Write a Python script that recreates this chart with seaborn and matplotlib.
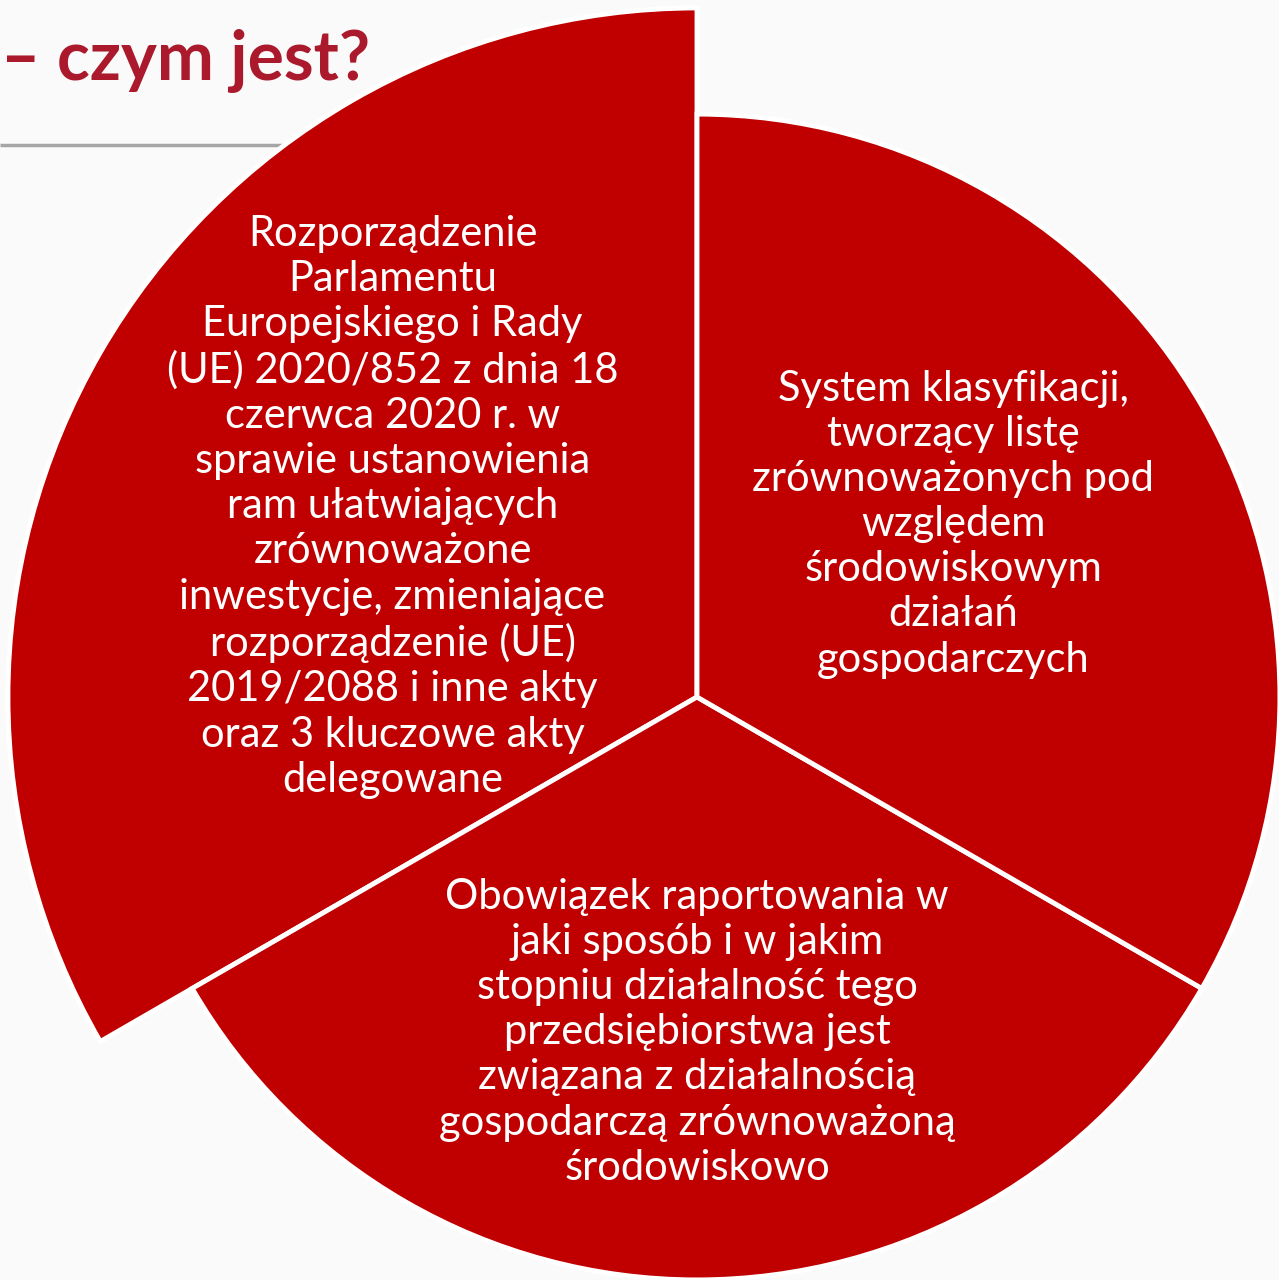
import numpy as np
import matplotlib.pyplot as plt
import seaborn as sns

# wedge texts (counter-clockwise from the top: left, bottom, right)
labels = [
    "Rozporządzenie\nParlamentu\nEuropejskiego i Rady\n(UE) 2020/852 z dnia 18\nczerwca 2020 r. w\nsprawie ustanowienia\nram ułatwiających\nzrównoważone\ninwestycje, zmieniające\nrozporządzenie (UE)\n2019/2088 i inne akty\noraz 3 kluczowe akty\ndelegowane",
    "Obowiązek raportowania w\njaki sposób i w jakim\nstopniu działalność tego\nprzedsiębiorstwa jest\nzwiązana z działalnością\ngospodarczą zrównoważoną\nśrodowiskowo",
    "System klasyfikacji,\ntworzący listę\nzrównoważonych pod\nwzględem\nśrodowiskowym\ndziałań\ngospodarczych",
]
shares = [1, 1, 1]
radii = [1.188, 1.005, 1.005]
text_dist = [0.619, 0.578, 0.533]
text_turn = [-2, 0, 4]
title = "– czym jest?"

sns.set_theme(style="white")
plt.rcParams['font.family'] = ['Lato', 'DejaVu Sans']

fig = plt.figure(figsize=(12.79, 12.80), dpi=100)
fig.patch.set_facecolor('#FAFAFA')
ax = fig.add_axes([0, 0, 1, 1])
ax.set_facecolor('#FAFAFA')

s = 580.0
xlim = (-697 / s, (1279 - 697) / s)
ylim = (-(1280 - 697) / s, 697 / s)

# header line and title behind the pie
ax.plot([xlim[0], (285 - 697) / s], [(697 - 145) / s] * 2, color='#A6A6A6', lw=2.5,
        solid_capstyle='butt', zorder=0)
ax.text(xlim[0] + 1 / s, (697 - 80) / s, title, ha='left', va='baseline',
        fontsize=49, fontweight='bold', color='#AA1A2C', zorder=0)

wedges, texts = ax.pie(shares, labels=labels, startangle=90, counterclock=True,
                       colors=['#C00000'] * 3, labeldistance=0.6,
                       wedgeprops=dict(edgecolor='white', linewidth=3.5),
                       textprops=dict(color='white', fontsize=30), frame=True)
ax.set_xlim(*xlim)
ax.set_ylim(*ylim)
ax.set_aspect('equal')
ax.axis('off')

for w, t, r, d, turn in zip(wedges, texts, radii, text_dist, text_turn):
    w.set_radius(r)
    mid = np.deg2rad((w.theta1 + w.theta2) / 2 + turn)
    t.set_position((d * np.cos(mid), d * np.sin(mid)))
    t.set_ha('center')
    t.set_va('center')
    t.set_multialignment('center')
    t.set_linespacing(1.23)

fig.savefig('out.png', dpi=100, facecolor=fig.get_facecolor())
